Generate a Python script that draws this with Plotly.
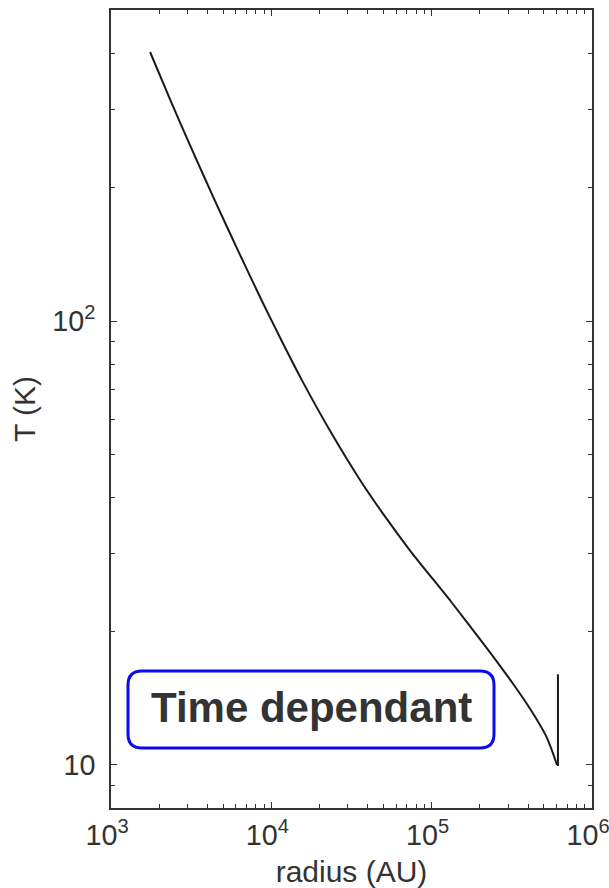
import plotly.graph_objects as go

# Data (radius in AU, temperature in K)
radius = [1753, 2338, 3209, 4467, 6219, 8785, 11720, 15620, 23380, 36000,
          50850, 73920, 131500, 220700, 320900, 415600, 515800, 570600, 604300]
temperature = [404, 315.5, 242.7, 186.2, 143.8, 110.6, 89.6, 73.25, 56.4, 43.7,
               36.4, 30.3, 23.38, 18.34, 15.26, 13.30, 11.64, 10.63, 10.0]
# final jump at the outer edge
edge_radius = [604300, 613200, 613200]
edge_temperature = [10.0, 10.0, 16.0]

x_title = "radius (AU)"
y_title = "T (K)"
label_text = "Time dependant"

W, H = 609, 888
L, R, T, B = 111, 17, 10, 80
FONT = "Liberation Sans, Arial"

fig = go.Figure()
fig.add_trace(go.Scatter(x=radius, y=temperature, mode="lines",
                         line=dict(color="#1a1a1a", width=2, shape="spline", smoothing=0.7),
                         showlegend=False))
fig.add_trace(go.Scatter(x=edge_radius, y=edge_temperature, mode="lines",
                         line=dict(color="#1a1a1a", width=2), showlegend=False))

axis_common = dict(
    type="log", showgrid=False, zeroline=False, showline=True, automargin=False,
    linecolor="#333333", linewidth=2, mirror="allticks",
    ticks="inside", ticklen=6, tickwidth=1, tickcolor="#333333",
    dtick=1, exponentformat="power", ticklabeloverflow="allow",
    tickfont=dict(family=FONT, size=23, color="#333333"),
    minor=dict(ticks="inside", ticklen=4, tickcolor="#333333", showgrid=False),
)

fig.update_xaxes(range=[3, 6], ticklabelstandoff=2, ticklabelshift=-4,
                 title=dict(text=x_title, standoff=11,
                            font=dict(family=FONT, size=30, color="#333333")),
                 **axis_common)
fig.update_yaxes(range=[0.903, 2.701], ticklabelstandoff=9,
                 title=dict(text=y_title, standoff=8,
                            font=dict(family=FONT, size=30, color="#333333")),
                 **axis_common)

# rounded box (paper coordinates)
pw, ph = W - L - R, H - T - B
x0, x1 = (128 - L) / pw, (494 - L) / pw
y1, y0 = 1 - (671 - T) / ph, 1 - (748 - T) / ph
rx, ry = 14 / pw, 14 / ph
path = (f"M {x0+rx},{y0} L {x1-rx},{y0} Q {x1},{y0} {x1},{y0+ry} "
        f"L {x1},{y1-ry} Q {x1},{y1} {x1-rx},{y1} L {x0+rx},{y1} "
        f"Q {x0},{y1} {x0},{y1-ry} L {x0},{y0+ry} Q {x0},{y0} {x0+rx},{y0} Z")
fig.add_shape(type="path", path=path, xref="paper", yref="paper",
              line=dict(color="#0a0aee", width=3), fillcolor="white")
fig.add_annotation(x=(x0 + x1) / 2, y=(y0 + y1) / 2, xref="paper", yref="paper",
                   xanchor="center", yanchor="middle", yshift=2,
                   text=f"<b>{label_text}</b>", showarrow=False,
                   font=dict(family=FONT, size=42, color="#333333"))

fig.update_layout(width=W, height=H, margin=dict(l=L, r=R, t=T, b=B),
                  plot_bgcolor="white", paper_bgcolor="white")

fig.write_html("out.html")
